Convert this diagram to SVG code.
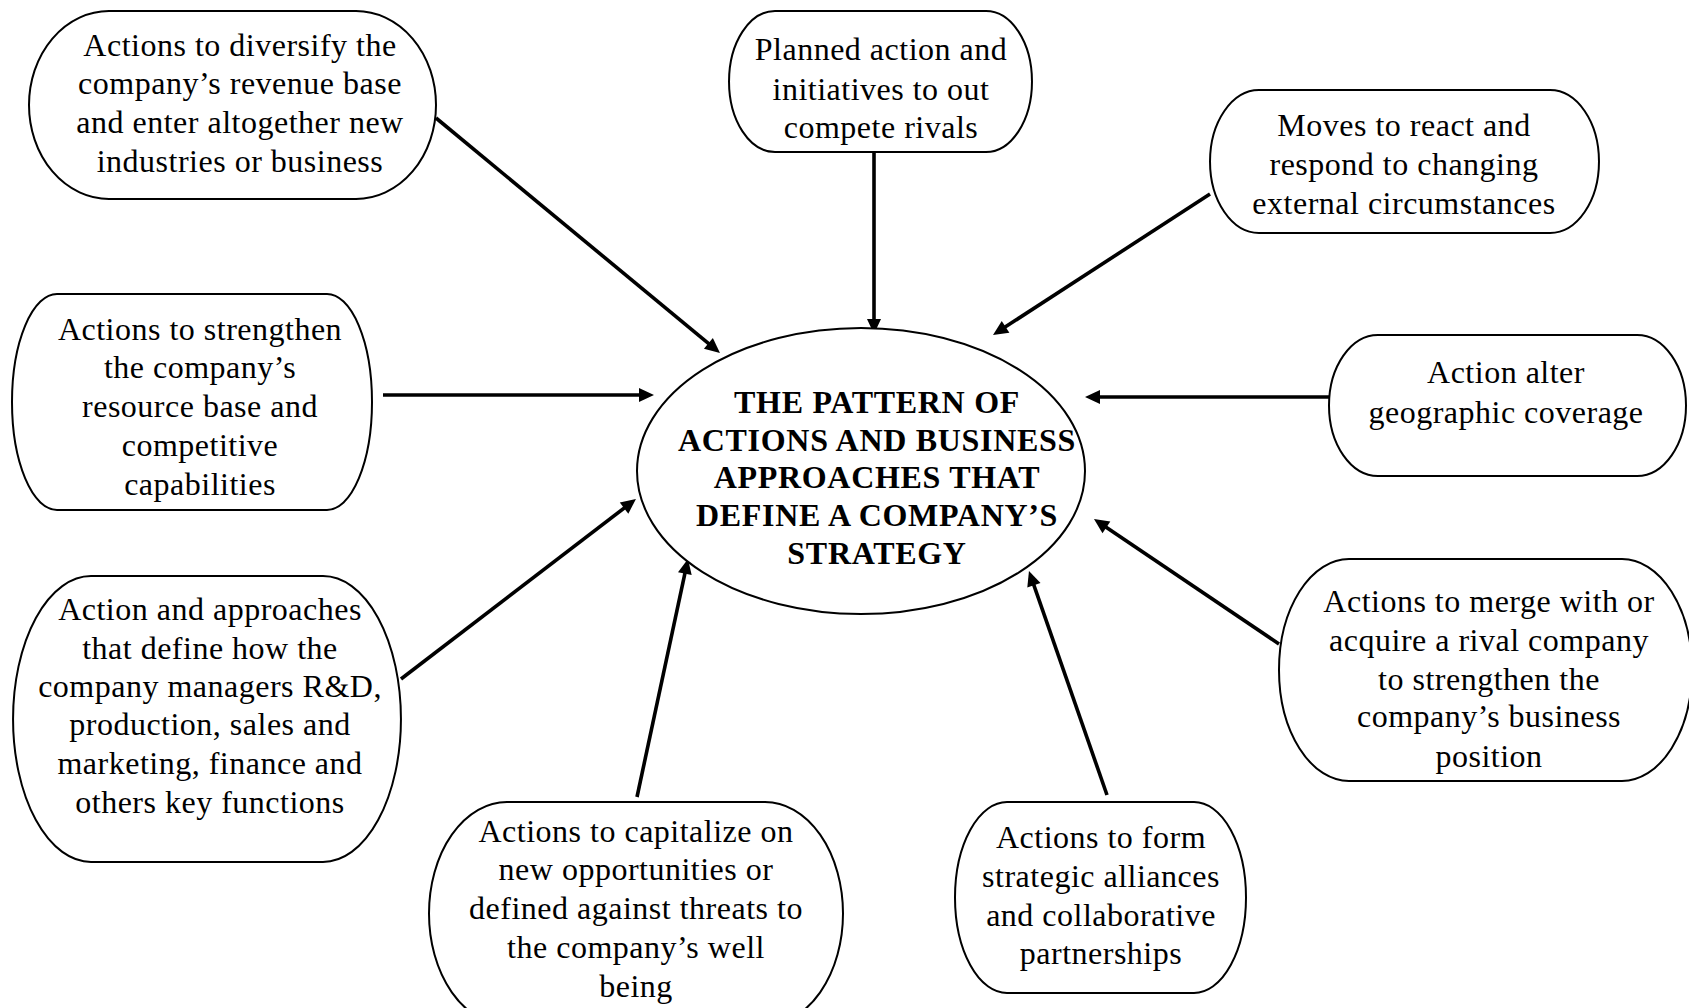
<svg xmlns="http://www.w3.org/2000/svg" width="1689" height="1008" viewBox="0 0 1689 1008">
<style>
.nd{fill:#fff;stroke:#000;stroke-width:2}
.t{font-family:"Liberation Serif","Times New Roman",serif;font-size:32px;letter-spacing:0.5px;fill:#000;text-anchor:middle}
.b{font-family:"Liberation Serif","Times New Roman",serif;font-size:32px;font-weight:bold;letter-spacing:0.7px;fill:#000;text-anchor:middle}
.c{stroke:#000;stroke-width:3.6;fill:none;marker-end:url(#ah)}
</style>
<defs>
<marker id="ah" markerUnits="userSpaceOnUse" markerWidth="16" markerHeight="14" refX="7" refY="7" orient="auto" overflow="visible">
<path d="M0,0 L15,7 L0,14 Z" fill="#000"/>
</marker>
</defs>
<rect width="1689" height="1008" fill="#fff"/>
<g id="connectors">
<line class="c" x1="436" y1="118" x2="713.8" y2="347.9"/>
<line class="c" x1="874" y1="152" x2="874" y2="326"/>
<line class="c" x1="1210" y1="194" x2="999.7" y2="330.6"/>
<line class="c" x1="1329" y1="397" x2="1093" y2="397"/>
<line class="c" x1="383" y1="395" x2="646" y2="395"/>
<line class="c" x1="401" y1="679" x2="629.6" y2="503.9"/>
<line class="c" x1="637" y1="797" x2="686.3" y2="566.8"/>
<line class="c" x1="1107" y1="795" x2="1031.6" y2="578.6"/>
<line class="c" x1="1279" y1="644" x2="1100.6" y2="523.5"/>
</g>
<g id="center">
<ellipse class="nd" cx="861" cy="471" rx="224" ry="143"/>
<text class="b" x="877" y="413">THE PATTERN OF</text>
<text class="b" x="877" y="451">ACTIONS AND BUSINESS</text>
<text class="b" x="877" y="488">APPROACHES THAT</text>
<text class="b" x="877" y="526">DEFINE A COMPANY’S</text>
<text class="b" x="877" y="564">STRATEGY</text>
</g>
<g id="n1">
<path class="nd" d="M109,11 H356 A80,94 0 0 1 356,199 H109 A80,94 0 0 1 109,11 Z"/>
<text class="t" x="240" y="56">Actions to diversify the</text>
<text class="t" x="240" y="94">company’s revenue base</text>
<text class="t" x="240" y="133">and enter altogether new</text>
<text class="t" x="240" y="172">industries or business</text>
</g>
<g id="n2">
<path class="nd" d="M775,11 H986 A46,70.5 0 0 1 986,152 H775 A46,70.5 0 0 1 775,11 Z"/>
<text class="t" x="881" y="60">Planned action and</text>
<text class="t" x="881" y="100">initiatives to out</text>
<text class="t" x="881" y="138">compete rivals</text>
</g>
<g id="n3">
<path class="nd" d="M1259,90 H1550 A49,71.5 0 0 1 1550,233 H1259 A49,71.5 0 0 1 1259,90 Z"/>
<text class="t" x="1404" y="136">Moves to react and</text>
<text class="t" x="1404" y="175">respond to changing</text>
<text class="t" x="1404" y="214">external circumstances</text>
</g>
<g id="n4">
<path class="nd" d="M1378,335 H1637 A49,70.5 0 0 1 1637,476 H1378 A49,70.5 0 0 1 1378,335 Z"/>
<text class="t" x="1506" y="383">Action alter</text>
<text class="t" x="1506" y="423">geographic coverage</text>
</g>
<g id="n5">
<path class="nd" d="M57,294 H327 A45,108 0 0 1 327,510 H57 A45,108 0 0 1 57,294 Z"/>
<text class="t" x="200" y="340">Actions to strengthen</text>
<text class="t" x="200" y="378">the company’s</text>
<text class="t" x="200" y="417">resource base and</text>
<text class="t" x="200" y="456">competitive</text>
<text class="t" x="200" y="495">capabilities</text>
</g>
<g id="n6">
<path class="nd" d="M91,576 H323 A78,143 0 0 1 323,862 H91 A78,143 0 0 1 91,576 Z"/>
<text class="t" x="210" y="620">Action and approaches</text>
<text class="t" x="210" y="659">that define how the</text>
<text class="t" x="210" y="697">company managers R&amp;D,</text>
<text class="t" x="210" y="735">production, sales and</text>
<text class="t" x="210" y="774">marketing, finance and</text>
<text class="t" x="210" y="813">others key functions</text>
</g>
<g id="n7">
<path class="nd" d="M507,802 H765 A78,111.5 0 0 1 765,1025 H507 A78,111.5 0 0 1 507,802 Z"/>
<text class="t" x="636" y="842">Actions to capitalize on</text>
<text class="t" x="636" y="880">new opportunities or</text>
<text class="t" x="636" y="919">defined against threats to</text>
<text class="t" x="636" y="958">the company’s well</text>
<text class="t" x="636" y="997">being</text>
</g>
<g id="n8">
<path class="nd" d="M1007,802 H1194 A52,95.5 0 0 1 1194,993 H1007 A52,95.5 0 0 1 1007,802 Z"/>
<text class="t" x="1101" y="848">Actions to form</text>
<text class="t" x="1101" y="887">strategic alliances</text>
<text class="t" x="1101" y="926">and collaborative</text>
<text class="t" x="1101" y="964">partnerships</text>
</g>
<g id="n9">
<path class="nd" d="M1349,559 H1622 A70,111 0 0 1 1622,781 H1349 A70,111 0 0 1 1349,559 Z"/>
<text class="t" x="1489" y="612">Actions to merge with or</text>
<text class="t" x="1489" y="651">acquire a rival company</text>
<text class="t" x="1489" y="690">to strengthen the</text>
<text class="t" x="1489" y="727">company’s business</text>
<text class="t" x="1489" y="767">position</text>
</g>
</svg>
